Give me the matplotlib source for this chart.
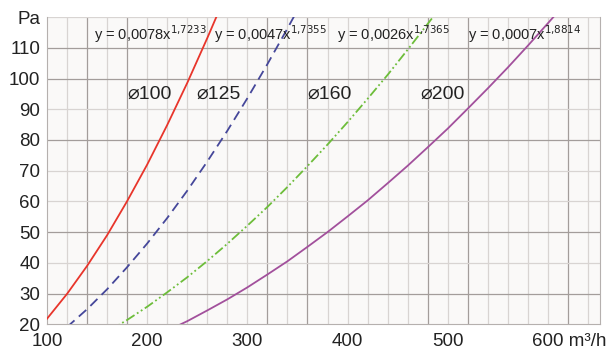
import matplotlib.pyplot as plt
from matplotlib.transforms import ScaledTranslation

plt.rcParams['font.family'] = ['Liberation Sans', 'DejaVu Sans']

# pressure loss curves (x in m3/h, y in Pa)
x100 = [100, 120, 140, 160, 180, 200, 220, 240, 260, 270]
y100 = [21.8, 29.9, 39.0, 49.0, 60.1, 72.0, 84.9, 98.6, 113.2, 120.8]

x125 = [120, 140, 160, 180, 200, 220, 240, 260, 280, 300, 320, 340, 350]
y125 = [19.1, 24.9, 31.4, 38.6, 46.3, 54.6, 63.5, 73.0, 83.0, 93.6, 104.7, 116.3, 122.3]

x160 = [160, 180, 200, 220, 240, 260, 280, 300, 320, 340, 360, 380, 400, 420, 440, 460, 480, 490]
y160 = [17.5, 21.4, 25.7, 30.4, 35.3, 40.6, 46.2, 52.1, 58.2, 64.7, 71.5, 78.5, 85.8, 93.4, 101.2, 109.4, 117.8, 122.0]

x200 = [220, 240, 260, 280, 300, 320, 340, 360, 380, 400, 420, 440, 460, 480, 500, 520, 540, 560, 580, 600, 610]
y200 = [17.9, 21.0, 24.5, 28.1, 32.0, 36.2, 40.5, 45.2, 50.0, 55.1, 60.3, 65.9, 71.6, 77.6, 83.7, 90.2, 96.8, 103.6, 110.7, 118.0, 121.7]

equations = ["y = 0,0078x$^{1{,}7233}$", "y = 0,0047x$^{1{,}7355}$",
             "y = 0,0026x$^{1{,}7365}$", "y = 0,0007x$^{1{,}8814}$"]
eq_x = [147, 267, 389, 520]
names = ["⌀100", "⌀125", "⌀160", "⌀200"]
name_x = [180, 249, 360, 473]

xticks = [100, 200, 300, 400, 500, 600]
xlabels = ["100", "200", "300", "400", "500", "600 m³/h"]
yticks = [20, 30, 40, 50, 60, 70, 80, 90, 100, 110, 120]
ylabels = ["20", "30", "40", "50", "60", "70", "80", "90", "100", "110", "Pa"]

# grid lines, some printed darker than others
dark_vx = [140, 180, 320, 360, 480, 520, 620]
dark_hy = [30, 50, 80, 100, 110]

fig = plt.figure(figsize=(6.11, 3.49), dpi=100)
ax = fig.add_axes([0.077, 0.071, 0.905, 0.88])
ax.set_facecolor('#faf9f8')

for gx in range(120, 660, 20):
    if gx in dark_vx:
        ax.axvline(gx, color='#a39d9b', lw=0.9, zorder=1)
    else:
        ax.axvline(gx, color='#d8d4d2', lw=0.9, zorder=1)
for gy in range(30, 121, 10):
    if gy in dark_hy:
        ax.axhline(gy, color='#a39d9b', lw=0.9, zorder=1)
    else:
        ax.axhline(gy, color='#d8d4d2', lw=0.9, zorder=1)

ax.plot(x100, y100, color='#e8352b', lw=1.3, zorder=3)
ax.plot(x125, y125, color='#45479a', lw=1.3, ls=(0, (5.5, 3.2)), zorder=3)
ax.plot(x160, y160, color='#6dbd3a', lw=1.3, ls=(0, (5.5, 1.6, 1, 1.6, 1, 1.6)), zorder=3)
ax.plot(x200, y200, color='#a2509c', lw=1.3, zorder=3)

for t, xx in zip(equations, eq_x):
    ax.text(xx, 114.4, t, fontsize=10.5, va='center', ha='left', color='#222222', zorder=4)
for t, xx in zip(names, name_x):
    ax.text(xx, 95, t, fontsize=14, va='center', ha='left', color='#222222', zorder=4)

ax.set_xlim(100, 652)
ax.set_ylim(20, 120)
ax.set_xticks(xticks)
ax.set_xticklabels(xlabels)
ax.set_yticks(yticks)
ax.set_yticklabels(ylabels)
ax.tick_params(length=0, labelsize=13.5, colors='#222222')
ax.tick_params(axis='x', pad=6)
ax.tick_params(axis='y', pad=5)

# "600 m³/h": keep the number centred on its tick
last = ax.get_xticklabels()[-1]
last.set_ha('left')
last.set_transform(last.get_transform() + ScaledTranslation(-15.5 / 100, 0, fig.dpi_scale_trans))

for s in ['left', 'bottom', 'right']:
    ax.spines[s].set_color('#b5b0ae')
ax.spines['top'].set_visible(False)

fig.savefig('out.png', dpi=100)
